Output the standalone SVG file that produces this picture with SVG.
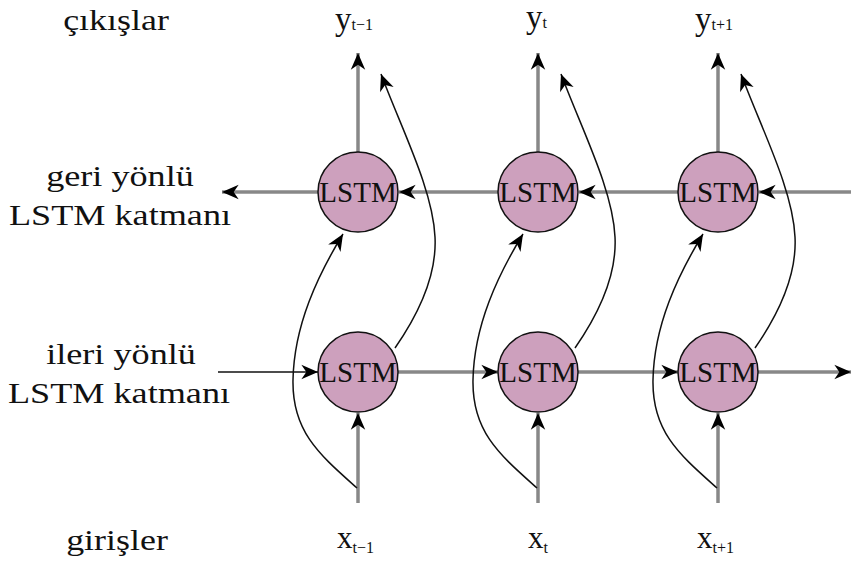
<svg xmlns="http://www.w3.org/2000/svg" width="851" height="565" viewBox="0 0 851 565">
<defs>
<marker id="ah" markerUnits="userSpaceOnUse" markerWidth="20" markerHeight="20" viewBox="-16 -8 18 16" refX="0" refY="0" orient="auto">
<path d="M0,0 L-15,-6.5 L-10.5,0 L-15,6.5 Z" fill="#000"/>
</marker>
</defs>
<style>
text{font-family:'Liberation Serif','Times New Roman',serif;fill:#111}
.lbl{font-size:28.5px;text-anchor:middle}
.node circle{fill:#cda0bd;stroke:#111;stroke-width:1.5}
.node text{font-size:29px;text-anchor:middle}
.g{stroke:#888;stroke-width:3.5;fill:none}
.k{stroke:#111;stroke-width:1.5;fill:none}
</style>
<rect width="851" height="565" fill="#fff"/>
<g id="labels">
<text class="lbl" transform="translate(116,30) scale(1.26,1)">çıkışlar</text>
<text class="lbl" transform="translate(120,186) scale(1.27,1)">geri yönlü</text>
<text class="lbl" transform="translate(120,225) scale(1.27,1)">LSTM katmanı</text>
<text class="lbl" transform="translate(121,364) scale(1.27,1)">ileri yönlü</text>
<text class="lbl" transform="translate(119,403) scale(1.27,1)">LSTM katmanı</text>
<text class="lbl" transform="translate(117,550) scale(1.26,1)">girişler</text>
</g>
<g id="outputs">
<text x="335" y="30" font-size="33">y<tspan font-size="16">t−1</tspan></text>
<text x="526" y="28" font-size="33">y<tspan font-size="16">t</tspan></text>
<text x="695" y="30" font-size="33">y<tspan font-size="16">t+1</tspan></text>
</g>
<g id="inputs">
<text x="337" y="548" font-size="31">x<tspan font-size="16" dy="5">t−1</tspan></text>
<text x="528" y="548" font-size="31">x<tspan font-size="16" dy="5">t</tspan></text>
<text x="697" y="548" font-size="31">x<tspan font-size="16" dy="5">t+1</tspan></text>
</g>
<g id="connectors">
<line class="g" x1="851" y1="192" x2="759" y2="192" marker-end="url(#ah)"/>
<line class="g" x1="679" y1="192" x2="579" y2="192" marker-end="url(#ah)"/>
<line class="g" x1="499" y1="192" x2="399" y2="192" marker-end="url(#ah)"/>
<line class="g" x1="319" y1="192" x2="222" y2="192" marker-end="url(#ah)"/>
<line class="k" x1="218" y1="372" x2="318" y2="372" marker-end="url(#ah)"/>
<line class="g" x1="398" y1="372" x2="498" y2="372" marker-end="url(#ah)"/>
<line class="g" x1="578" y1="372" x2="678" y2="372" marker-end="url(#ah)"/>
<line class="g" x1="758" y1="372" x2="851" y2="372" marker-end="url(#ah)"/>
<line class="g" x1="358" y1="152" x2="358" y2="53" marker-end="url(#ah)"/>
<line class="g" x1="538" y1="152" x2="538" y2="53" marker-end="url(#ah)"/>
<line class="g" x1="718" y1="152" x2="718" y2="53" marker-end="url(#ah)"/>
<line class="g" x1="358" y1="503" x2="358" y2="413" marker-end="url(#ah)"/>
<line class="g" x1="538" y1="503" x2="538" y2="413" marker-end="url(#ah)"/>
<line class="g" x1="718" y1="503" x2="718" y2="413" marker-end="url(#ah)"/>
<path class="k" d="M357,488 C320,455 292,432 293,380 C294,325 318,275 343,234" marker-end="url(#ah)"/>
<path class="k" d="M537,488 C500,455 472,432 473,380 C474,325 498,275 523,234" marker-end="url(#ah)"/>
<path class="k" d="M717,488 C680,455 652,432 653,380 C654,325 678,275 703,234" marker-end="url(#ah)"/>
<path class="k" d="M395,348 C420,312 437,275 435,237 C433,190 402,130 381,74" marker-end="url(#ah)"/>
<path class="k" d="M575,348 C600,312 617,275 615,237 C613,190 582,130 561,74" marker-end="url(#ah)"/>
<path class="k" d="M755,348 C780,312 797,275 795,237 C793,190 762,130 741,74" marker-end="url(#ah)"/>
</g>
<g id="b1" class="node"><circle cx="358" cy="192" r="40"/><text x="358" y="202">LSTM</text></g>
<g id="b2" class="node"><circle cx="538" cy="192" r="40"/><text x="538" y="202">LSTM</text></g>
<g id="b3" class="node"><circle cx="718" cy="192" r="40"/><text x="718" y="202">LSTM</text></g>
<g id="f1" class="node"><circle cx="358" cy="372" r="40"/><text x="358" y="382">LSTM</text></g>
<g id="f2" class="node"><circle cx="538" cy="372" r="40"/><text x="538" y="382">LSTM</text></g>
<g id="f3" class="node"><circle cx="718" cy="372" r="40"/><text x="718" y="382">LSTM</text></g>
</svg>
